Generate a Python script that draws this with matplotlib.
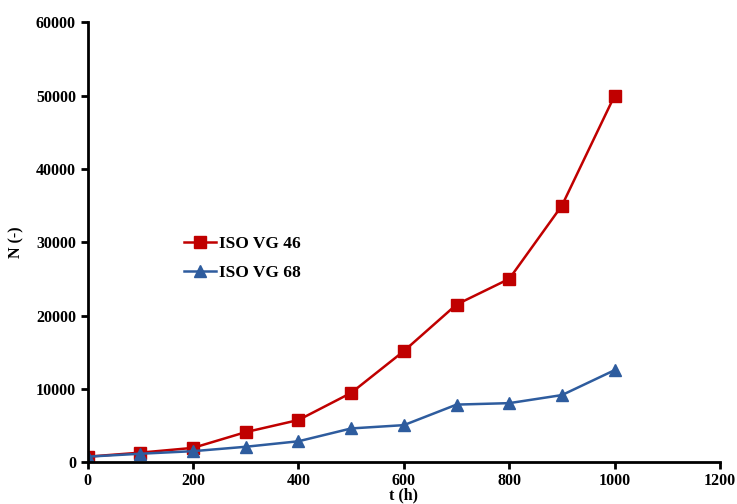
import numpy as np
import matplotlib.pyplot as plt

#data
t_hours = [0, 100, 200, 300, 400, 500, 600, 700, 800, 900, 1000]
n_vg46 = [750, 1300, 1950, 4100, 5750, 9450, 15150, 21500, 25000, 35000, 50000]
n_vg68 = [750, 1150, 1500, 2100, 2850, 4600, 5050, 7850, 8050, 9150, 12550]

plt.rcParams['font.family'] = ['Liberation Serif', 'DejaVu Serif']
plt.rcParams['font.weight'] = 'bold'

fig = plt.figure(figsize=(7.37, 5.04), dpi=100)
ax = fig.add_axes([0.119, 0.083, 0.858, 0.873])

ax.plot(t_hours, n_vg46, color='#c00000', marker='s', markersize=8, linewidth=1.8, label='ISO VG 46')
ax.plot(t_hours, n_vg68, color='#2e5c9e', marker='^', markersize=8, linewidth=1.8, label='ISO VG 68')

ax.set_xlim(0, 1200)
ax.set_ylim(0, 60000)
ax.set_xticks(np.arange(0, 1201, 200))
ax.set_yticks(np.arange(0, 60001, 10000))
ax.spines['top'].set_visible(False)
ax.spines['right'].set_visible(False)
ax.spines['left'].set_linewidth(2)
ax.spines['bottom'].set_linewidth(2)
ax.tick_params(direction='out', width=2, length=5, labelsize=11.5)
ax.tick_params(axis='x', pad=3)
for lbl in ax.get_xticklabels() + ax.get_yticklabels():
    lbl.set_fontweight('bold')

ax.set_xlabel('t (h)', fontsize=11.5, fontweight='bold', labelpad=-1)
ax.set_ylabel('N (-)', fontsize=11.5, fontweight='bold', labelpad=8)

ax.legend(loc='upper left', bbox_to_anchor=(0.128, 0.55), frameon=False,
          prop={'size': 12.5, 'weight': 'bold'}, handlelength=1.8, labelspacing=0.75,
          handletextpad=0.2)

fig.savefig('out.png', dpi=100)
